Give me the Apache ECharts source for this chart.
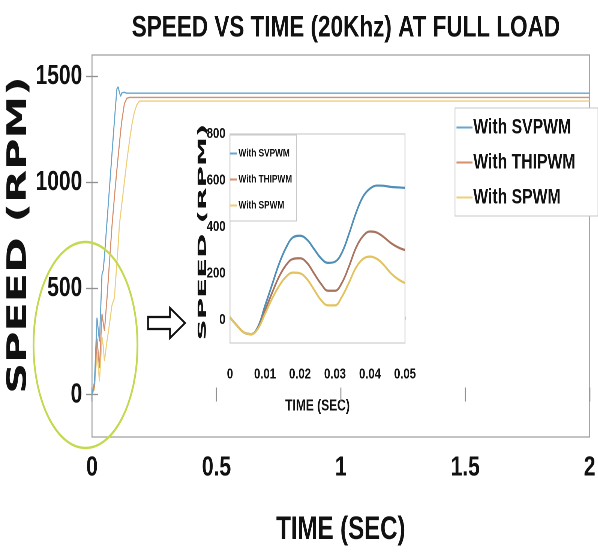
<!DOCTYPE html>
<html>
<head>
<meta charset="utf-8">
<script src="https://cdn.jsdelivr.net/npm/echarts@6/dist/echarts.min.js"></script>
<style>
html,body{margin:0;padding:0;background:#fff;overflow:hidden;width:598px;height:552px;}
#chart{height:552px;transform-origin:0 0;}
</style>
</head>
<body>
<div id="chart"></div>
<script>
// ---- Main chart data (time in s, speed in RPM) ----
const mainTime    = [0, 0.01, 0.02, 0.03, 0.04, 0.045, 0.05, 0.06, 0.07, 0.08, 0.09, 0.1, 0.105, 0.11, 0.115, 0.12, 0.13, 0.14, 0.15, 0.16, 0.17, 0.18, 0.19, 0.2, 0.3, 2];
const mainSVPWM   = [0, 60, 362, 250, 565, 585, 650, 810, 970, 1130, 1290, 1440, 1450, 1425, 1405, 1422, 1424, 1420, 1420, 1420, 1420, 1420, 1420, 1420, 1420, 1420];
const mainTHIPWM  = [0, 40, 265, 125, 380, 340, 300, 450, 620, 790, 930, 1060, 1120, 1180, 1240, 1290, 1370, 1396, 1400, 1400, 1400, 1400, 1400, 1400, 1400, 1400];
const mainSPWM    = [0, 25, 200, 62, 272, 230, 158, 250, 330, 420, 455, 620, 700, 800, 850, 900, 1000, 1100, 1190, 1270, 1330, 1365, 1382, 1383, 1383, 1383];

// ---- Inset data (first 0.05 s) ----
const insetTime   = [0, 0.002, 0.004, 0.006, 0.008, 0.01, 0.012, 0.014, 0.016, 0.018, 0.02, 0.022, 0.024, 0.026, 0.028, 0.03, 0.032, 0.034, 0.036, 0.038, 0.04, 0.042, 0.044, 0.046, 0.048, 0.05];
const insetSVPWM  = [10, -25, -55, -62, -30, 60, 150, 240, 310, 355, 362, 345, 305, 265, 245, 250, 290, 370, 460, 530, 565, 578, 577, 572, 570, 568];
const insetTHIPWM = [10, -25, -55, -62, -35, 40, 115, 185, 235, 262, 265, 245, 200, 155, 125, 125, 160, 230, 310, 360, 380, 375, 355, 330, 312, 300];
const insetSPWM   = [10, -25, -55, -62, -38, 25, 90, 145, 185, 203, 200, 175, 130, 85, 62, 62, 100, 160, 225, 262, 272, 262, 235, 200, 175, 158];

// ---- Names & ticks ----
const seriesNames = ['With SVPWM', 'With THIPWM', 'With SPWM'];
const mainYTicks  = [0, 500, 1000, 1500];
const insetYTicks = [0, 200, 400, 600, 800];
const titleText   = 'SPEED VS TIME (20Khz) AT FULL LOAD';
const xName       = 'TIME (SEC)';
const yName       = 'SPEED (RPM)';

// The reference uses a condensed typeface; draw on a wider canvas and squeeze horizontally.
const SX = 0.75;
const X = v => v / SX;
const el = document.getElementById('chart');
el.style.width = X(598) + 'px';
el.style.transform = 'scaleX(' + SX + ')';

const mainColors  = ['#6aa5cc', '#d4906f', '#efcf7c'];
const insetColors = ['#4f8fb8', '#a8735f', '#e2c35e'];
const FONT = "'Liberation Sans', Arial, sans-serif";

function zip(t, v) { return t.map((x, i) => [x, v[i]]); }
const plain = v => String(+(+v).toFixed(2));

const chart = echarts.init(el, null, {renderer: 'canvas', devicePixelRatio: 2});
const mainVals = [mainSVPWM, mainTHIPWM, mainSPWM];
const insetVals = [insetSVPWM, insetTHIPWM, insetSPWM];

const series = [];
seriesNames.forEach((n, i) => {
  series.push({
    name: n, type: 'line', xAxisIndex: 0, yAxisIndex: 0, symbol: 'none', smooth: false,
    data: zip(mainTime, mainVals[i]),
    lineStyle: {width: 1.4, color: mainColors[i]}, itemStyle: {color: mainColors[i]},
    z: 3 - i
  });
});
seriesNames.forEach((n, i) => {
  series.push({
    name: n, type: 'line', xAxisIndex: 2, yAxisIndex: 2, symbol: 'none', smooth: 0.4,
    data: zip(insetTime, insetVals[i]),
    lineStyle: {width: 2.2, color: insetColors[i]}, itemStyle: {color: insetColors[i]},
    z: 10
  });
});

const tickStyle = {color: '#909090', width: 1.3};

const option = {
  backgroundColor: '#fff',
  animation: false,
  title: {
    text: titleText, left: X(128), top: 8,
    textStyle: {fontFamily: FONT, fontWeight: 'bold', fontSize: 30, color: '#111'}
  },
  legend: [
    {
      data: seriesNames, orient: 'vertical', left: X(455), top: 108,
      icon: 'rect', itemWidth: X(16), itemHeight: 2, itemGap: 14,
      padding: [9, 30, 8, 2],
      borderColor: '#c8c8c8', borderWidth: 1, backgroundColor: '#fff',
      textStyle: {fontFamily: FONT, fontWeight: 'bold', fontSize: 21, color: '#111', padding: [0, 0, 0, -4]},
      selectedMode: false
    },
    {
      data: seriesNames, orient: 'vertical', left: X(230), top: 135,
      icon: 'rect', itemWidth: X(7), itemHeight: 2, itemGap: 15,
      padding: [13, 6, 10, 0],
      borderColor: '#c8c8c8', borderWidth: 1, backgroundColor: '#fff',
      textStyle: {fontFamily: FONT, fontWeight: 'bold', fontSize: 11, color: '#111', padding: [0, 0, 0, -3]},
      selectedMode: false, z: 20
    }
  ],
  grid: [
    {left: X(92), top: 55, right: X(8), bottom: 115, show: true, borderColor: '#a0a0a0', borderWidth: 1.3, backgroundColor: '#fff'},
    {left: X(230), top: 134, width: X(175), height: 209, show: true, borderColor: '#cfcfcf', borderWidth: 1.2, backgroundColor: '#fff', z: 5}
  ],
  xAxis: [
    {
      gridIndex: 0, type: 'value', min: 0, max: 2, interval: 0.5,
      name: xName, nameLocation: 'middle', nameGap: 77,
      nameTextStyle: {fontFamily: FONT, fontWeight: 'bold', fontSize: 32, color: '#111'},
      axisLine: {show: false},
      axisTick: {show: true, inside: true, length: 7, lineStyle: tickStyle},
      axisLabel: {fontFamily: FONT, fontWeight: 'bold', fontSize: 28, color: '#111', margin: 17, formatter: plain},
      splitLine: {show: false}
    },
    {
      gridIndex: 0, type: 'value', min: 0, max: 2, interval: 0.5, position: 'top',
      axisLine: {show: false},
      axisTick: {show: true, inside: true, length: 7, lineStyle: tickStyle},
      axisLabel: {show: false}, splitLine: {show: false}
    },
    {
      gridIndex: 1, type: 'value', min: 0, max: 0.05, interval: 0.01,
      name: xName, nameLocation: 'middle', nameGap: 55,
      nameTextStyle: {fontFamily: FONT, fontWeight: 'bold', fontSize: 16, color: '#111'},
      axisLine: {show: false},
      axisTick: {show: true, inside: true, length: 3, lineStyle: {color: '#c0c0c0'}},
      axisLabel: {fontFamily: FONT, fontWeight: 'bold', fontSize: 15, color: '#111', margin: 24, formatter: plain},
      splitLine: {show: false}
    }
  ],
  yAxis: [
    {
      gridIndex: 0, type: 'value', min: -200, max: 1600,
      axisLine: {show: false},
      axisTick: {show: true, inside: true, length: 8, customValues: mainYTicks, lineStyle: tickStyle},
      axisLabel: {customValues: mainYTicks, fontFamily: FONT, fontWeight: 'bold', fontSize: 28, color: '#111', margin: 13, formatter: plain},
      splitLine: {show: false}
    },
    {
      gridIndex: 0, type: 'value', min: -200, max: 1600, position: 'right',
      axisLine: {show: false},
      axisTick: {show: true, inside: true, length: 8, customValues: mainYTicks, lineStyle: tickStyle},
      axisLabel: {show: false}, splitLine: {show: false}
    },
    {
      gridIndex: 1, type: 'value', min: -100, max: 800,
      axisLine: {show: false},
      axisTick: {show: true, inside: true, length: 4, customValues: insetYTicks, lineStyle: {color: '#c0c0c0'}},
      axisLabel: {customValues: insetYTicks, fontFamily: FONT, fontWeight: 'bold', fontSize: 15, color: '#111', margin: 6, formatter: plain},
      splitLine: {show: false}
    }
  ],
  graphic: [
    {
      type: 'text', x: X(19), y: 235, rotation: Math.PI / 2, scaleX: 1.19, scaleY: 1, z: 30,
      style: {text: yName, font: "bold 36px 'DejaVu Sans', sans-serif", fill: '#111', align: 'center', verticalAlign: 'middle'}
    },
    {
      type: 'text', x: X(203), y: 232, rotation: Math.PI / 2, scaleX: 1.95, scaleY: 1, z: 30,
      style: {text: yName, font: "bold 15px 'DejaVu Sans', sans-serif", fill: '#111', align: 'center', verticalAlign: 'middle'}
    },
    {
      type: 'ellipse', shape: {cx: X(85.5), cy: 345, rx: X(52), ry: 103}, z: 40, silent: true,
      style: {fill: 'none', stroke: '#c3d94e', lineWidth: 2.4}
    },
    {
      type: 'polygon', z: 40, silent: true,
      shape: {points: [[X(148), 317], [X(170), 317], [X(170), 308], [X(185), 323], [X(170), 338], [X(170), 329], [X(148), 329]]},
      style: {fill: '#fff', stroke: '#111', lineWidth: 2.2}
    }
  ],
  series: series
};
chart.setOption(option);
</script>
</body>
</html>
